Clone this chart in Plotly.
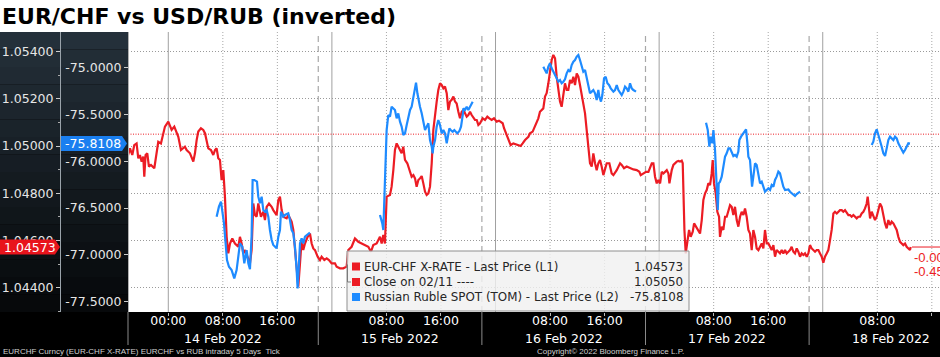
import pandas as pd
import plotly.graph_objects as go

BASE = pd.Timestamp("2022-02-14 00:00")

# ---------------- data (hours since 14 Feb 2022 00:00, prices) ----------------
eurchf_hours = [
    -5.97, -5.62, -5.28, -4.99, -4.65, -4.40, -4.16, -3.91, -3.67, -3.52,
    -3.33, -3.08, -2.84, -2.54, -2.05, -1.71, -1.47, -1.08, -0.73, -0.49,
    0.00, 0.24, 0.49, 0.88, 1.22, 1.47, 1.86, 2.20, 2.44, 2.69,
    3.18, 3.67, 3.91, 4.16, 4.40, 4.79, 5.13, 5.38, 5.62, 5.87,
    6.26, 6.60, 6.85, 7.09, 7.33, 7.58, 7.82, 8.07, 8.31, 8.56,
    8.80, 9.05, 9.39, 9.78, 10.27, 10.51, 10.76, 11.00, 11.25, 11.64,
    11.98, 12.22, 12.47, 12.71, 12.96, 13.20, 13.59, 13.94, 14.18, 14.43,
    14.77, 15.16, 15.40, 15.89, 16.14, 16.38, 16.63, 16.87, 17.36, 17.60,
    18.09, 18.34, 18.58, 18.83, 19.07, 19.32, 19.56, 19.80, 20.05, 20.44,
    20.78, 21.03, 21.27, 21.52, 21.91, 22.25, 22.49, 22.89, 23.23, 23.57,
    23.96, 24.45, 24.69, 25.18, 25.67, 26.16, 26.41, 26.89, 27.38, 27.63,
    27.87, 28.36, 28.85, 29.34, 29.73, 30.07, 30.56, 31.05, 31.30, 31.54,
    31.78, 32.03, 32.52, 32.76, 33.01, 33.25, 33.50, 33.74, 33.99, 34.23,
    34.47, 34.72, 35.06, 35.36, 35.70, 35.95, 36.19, 36.43, 36.68, 36.92,
    37.17, 37.41, 37.66, 37.90, 38.15, 38.39, 38.64, 38.88, 39.13, 39.37,
    39.61, 39.86, 40.10, 40.35, 40.59, 40.84, 41.08, 41.33, 41.57, 41.82,
    42.06, 42.30, 42.55, 42.79, 43.04, 43.28, 43.53, 43.77, 44.01, 44.26,
    44.50, 44.75, 44.99, 45.24, 45.48, 45.73, 46.12, 46.46, 46.80, 47.10,
    47.44, 47.78, 48.17, 48.51, 48.76, 49.05, 49.25, 49.54, 49.88, 50.22,
    50.62, 51.01, 51.35, 51.69, 51.98, 52.33, 52.82, 53.06, 53.45, 53.79,
    54.04, 54.28, 54.52, 55.01, 55.26, 55.50, 55.75, 55.99, 56.24, 56.48,
    56.73, 56.97, 57.22, 57.46, 57.70, 57.95, 58.19, 58.44, 58.68, 58.93,
    59.17, 59.42, 59.66, 59.91, 60.15, 60.39, 60.64, 60.88, 61.13, 61.37,
    61.62, 61.86, 62.11, 62.35, 62.60, 62.84, 63.08, 63.33, 63.57, 63.82,
    64.31, 64.70, 65.04, 65.29, 65.78, 66.27, 66.51, 66.85, 67.24, 67.73,
    68.22, 68.71, 69.10, 69.30, 69.69, 70.08, 70.43, 70.67, 70.92, 71.16,
    71.40, 71.65, 71.89, 72.14, 72.38, 72.63, 72.87, 73.12, 73.36, 73.51,
    73.85, 74.09, 74.58, 74.82, 75.07, 75.31, 75.46, 75.56, 75.71, 75.90,
    76.15, 76.39, 76.63, 76.93, 77.13, 77.42, 77.76, 78.00, 78.25, 78.49,
    78.74, 78.98, 79.22, 79.47, 79.71, 79.86, 80.05, 80.30, 80.54, 80.79,
    80.93, 81.18, 81.42, 81.67, 81.91, 82.16, 82.40, 82.64, 82.89, 83.13,
    83.38, 83.62, 83.87, 84.11, 84.36, 84.60, 84.84, 85.09, 85.33, 85.58,
    85.82, 86.07, 86.31, 86.56, 86.80, 87.05, 87.29, 87.53, 87.78, 88.02,
    88.27, 88.51, 88.76, 89.00, 89.24, 89.49, 89.73, 89.98, 90.22, 90.47,
    90.71, 90.96, 91.20, 91.44, 91.69, 91.93, 92.18, 92.42, 92.67, 92.91,
    93.16, 93.40, 93.65, 93.89, 94.13, 94.38, 94.62, 94.87, 95.11, 95.36,
    95.60, 95.85, 96.09, 96.33, 96.58, 96.82, 97.07, 97.31, 97.56, 97.80,
    98.05, 98.29, 98.53, 98.78, 99.02, 99.27, 99.51, 99.76, 100.00, 100.24,
    100.49, 100.73, 100.98, 101.22, 101.47, 101.71, 101.96, 102.20, 102.45, 102.59,
    102.79, 102.94, 103.18, 103.42, 103.67, 103.91, 104.16, 104.40, 104.65, 104.89,
    105.14, 105.38, 105.62, 105.87, 106.11, 106.36, 106.60, 106.85, 107.09, 107.34,
    107.58, 107.82, 108.07, 108.31, 108.56, 108.80, 108.90,
]
eurchf_price = [
    1.04955, 1.04990, 1.04962, 1.05004, 1.05011, 1.04948, 1.04962, 1.04934, 1.04955, 1.04870,
    1.04962, 1.04969, 1.04913, 1.04920, 1.04906, 1.04983, 1.05018, 1.05011, 1.05054, 1.05082,
    1.05103, 1.05089, 1.05068, 1.05082, 1.05061, 1.05039, 1.04983, 1.04990, 1.04997, 1.04983,
    1.04969, 1.04934, 1.04969, 1.05025, 1.05061, 1.05075, 1.05068, 1.05054, 1.05025, 1.04990,
    1.04983, 1.04962, 1.04983, 1.04990, 1.04948, 1.04941, 1.04856, 1.04898, 1.04786, 1.04616,
    1.04546, 1.04588, 1.04609, 1.04588, 1.04574, 1.04616, 1.04588, 1.04546, 1.04560, 1.04532,
    1.04504, 1.04560, 1.04757, 1.04708, 1.04701, 1.04757, 1.04701, 1.04722, 1.04687, 1.04743,
    1.04757, 1.04743, 1.04729, 1.04708, 1.04772, 1.04786, 1.04729, 1.04701, 1.04694, 1.04708,
    1.04680, 1.04645, 1.04574, 1.04475, 1.04405, 1.04504, 1.04602, 1.04560, 1.04588, 1.04616,
    1.04630, 1.04588, 1.04567, 1.04560, 1.04532, 1.04518, 1.04532, 1.04518, 1.04525, 1.04518,
    1.04504, 1.04504, 1.04490, 1.04483, 1.04483, 1.04490, 1.04560, 1.04574, 1.04609, 1.04602,
    1.04595, 1.04588, 1.04581, 1.04574, 1.04553, 1.04581, 1.04588, 1.04616, 1.04588, 1.04624,
    1.04588, 1.04786, 1.04793, 1.04828, 1.04898, 1.04983, 1.05011, 1.04997, 1.04983, 1.04969,
    1.04997, 1.04941, 1.04927, 1.04898, 1.04870, 1.04877, 1.04863, 1.04828, 1.04856, 1.04863,
    1.04873, 1.04842, 1.04807, 1.04793, 1.04800, 1.04828, 1.04927, 1.05068, 1.05138, 1.05188,
    1.05237, 1.05265, 1.05258, 1.05244, 1.05251, 1.05223, 1.05152, 1.05188, 1.05195, 1.05209,
    1.05188, 1.05180, 1.05145, 1.05117, 1.05145, 1.05152, 1.05138, 1.05124, 1.05131, 1.05145,
    1.05131, 1.05121, 1.05110, 1.05110, 1.05089, 1.05096, 1.05117, 1.05110, 1.05124, 1.05117,
    1.05110, 1.05117, 1.05103, 1.05107, 1.05103, 1.05096, 1.05075, 1.05054, 1.05032, 1.05004,
    1.05011, 1.05008, 1.05004, 1.05000, 1.05011, 1.05025, 1.05039, 1.05054, 1.05061, 1.05082,
    1.05103, 1.05117, 1.05145, 1.05159, 1.05209, 1.05223, 1.05265, 1.05321, 1.05364, 1.05385,
    1.05371, 1.05293, 1.05230, 1.05188, 1.05166, 1.05209, 1.05265, 1.05237, 1.05237, 1.05279,
    1.05265, 1.05293, 1.05258, 1.05307, 1.05293, 1.05258, 1.05216, 1.05180, 1.05138, 1.05068,
    1.04997, 1.04927, 1.04913, 1.04969, 1.04927, 1.04898, 1.04927, 1.04941, 1.04913, 1.04877,
    1.04927, 1.04927, 1.04884, 1.04877, 1.04898, 1.04927, 1.04920, 1.04906, 1.04913, 1.04906,
    1.04901, 1.04898, 1.04891, 1.04877, 1.04884, 1.04891, 1.04891, 1.04913, 1.04927, 1.04927,
    1.04870, 1.04842, 1.04856, 1.04842, 1.04891, 1.04884, 1.04891, 1.04898, 1.04884, 1.04842,
    1.04898, 1.04920, 1.04934, 1.04937, 1.04934, 1.04938, 1.04927, 1.04757, 1.04645, 1.04546,
    1.04588, 1.04645, 1.04616, 1.04638, 1.04673, 1.04659, 1.04645, 1.04630, 1.04687, 1.04772,
    1.04800, 1.04814, 1.04842, 1.04835, 1.04884, 1.04941, 1.04842, 1.04800, 1.04722, 1.04701,
    1.04616, 1.04659, 1.04645, 1.04701, 1.04701, 1.04722, 1.04750, 1.04743, 1.04708, 1.04743,
    1.04687, 1.04659, 1.04701, 1.04722, 1.04708, 1.04736, 1.04701, 1.04645, 1.04630, 1.04560,
    1.04645, 1.04616, 1.04567, 1.04560, 1.04574, 1.04588, 1.04567, 1.04645, 1.04588, 1.04588,
    1.04574, 1.04560, 1.04581, 1.04532, 1.04560, 1.04553, 1.04546, 1.04560, 1.04546, 1.04560,
    1.04546, 1.04553, 1.04560, 1.04574, 1.04553, 1.04546, 1.04567, 1.04553, 1.04532, 1.04546,
    1.04539, 1.04546, 1.04532, 1.04546, 1.04581, 1.04567, 1.04560, 1.04553, 1.04560, 1.04560,
    1.04546, 1.04532, 1.04507, 1.04532, 1.04546, 1.04560, 1.04602, 1.04645, 1.04715, 1.04722,
    1.04715, 1.04722, 1.04729, 1.04729, 1.04722, 1.04729, 1.04718, 1.04708, 1.04708, 1.04701,
    1.04708, 1.04701, 1.04694, 1.04701, 1.04701, 1.04715, 1.04722, 1.04736, 1.04757, 1.04786,
    1.04729, 1.04694, 1.04722, 1.04708, 1.04687, 1.04701, 1.04736, 1.04757, 1.04743, 1.04701,
    1.04673, 1.04652, 1.04687, 1.04666, 1.04680, 1.04673, 1.04659, 1.04645, 1.04616, 1.04595,
    1.04588, 1.04581, 1.04588, 1.04574, 1.04567, 1.04560, 1.04573,
]
eurchf_prev_close = 1.05050

# USD/RUB (inverted), trading sessions
rub_s1_hours = [7.09, 7.43, 7.73, 7.92, 8.17, 8.41, 8.61, 8.90, 9.29, 9.68,
                10.02, 10.27, 10.51, 10.86, 11.15, 11.49, 11.74, 11.98, 12.22, 12.37,
                12.62, 13.01, 13.20, 13.45, 13.69, 13.94, 14.18, 14.43, 14.67, 14.91,
                15.16, 15.40, 15.89, 16.14, 16.38, 16.53, 16.87, 17.11, 17.60, 17.85,
                18.09, 18.34, 18.58, 18.83, 18.97, 19.17, 19.32, 19.56, 19.80, 20.05,
                20.29, 20.54, 20.78]
rub_s1_price = [-76.592, -76.485, -76.432, -76.521, -76.663, -76.877, -77.055, -77.126, -77.162, -77.251,
                -77.162, -77.019, -76.877, -76.912, -77.090, -76.948, -77.090, -77.154, -76.805, -76.200,
                -76.200, -76.218, -76.378, -76.449, -76.378, -76.521, -76.538, -76.521, -76.592, -76.734,
                -76.841, -76.894, -76.930, -76.805, -76.734, -76.538, -76.592, -76.574, -76.556, -76.627,
                -76.734, -76.770, -76.912, -77.162, -77.357, -77.090, -76.877, -76.823, -76.877, -76.805,
                -76.788, -76.770, -76.763]
rub_s2_hours = [31.05, 31.39, 31.54, 31.78, 32.03, 32.27, 32.52, 32.76, 33.25, 33.50,
                33.74, 33.99, 34.23, 34.47, 34.72, 34.97, 35.21, 35.46, 35.70, 35.95,
                36.19, 36.34, 36.54, 36.68, 36.92, 37.17, 37.41, 37.66, 37.90, 38.15,
                38.29, 38.39, 38.64, 38.78, 38.88, 39.13, 39.37, 39.47, 39.61, 39.86,
                40.10, 40.35, 40.59, 40.84, 40.98, 41.23, 41.42, 41.72, 41.96, 42.21,
                42.40, 42.70, 42.94, 43.19, 43.29, 43.53, 43.77, 44.01, 44.26, 44.50, 44.65]
rub_s2_price = [-76.574, -76.663, -76.734, -76.200, -75.666, -75.506, -75.523, -75.417, -75.452, -75.541,
                -75.488, -75.577, -75.630, -75.719, -75.702, -75.612, -75.523, -75.452, -75.417, -75.310,
                -75.203, -75.160, -75.274, -75.345, -75.417, -75.488, -75.559, -75.666, -75.630, -75.595,
                -75.702, -75.773, -75.844, -75.915, -75.844, -75.773, -75.630, -75.577, -75.559, -75.612,
                -75.702, -75.666, -75.702, -75.808, -75.737, -75.648, -75.666, -75.684, -75.666, -75.684,
                -75.702, -75.677, -75.630, -75.506, -75.434, -75.452, -75.417, -75.452, -75.417, -75.374, -75.363]
rub_s3_hours = [55.01, 55.26, 55.50, 55.75, 55.99, 56.24, 56.48, 56.73, 56.97, 57.22,
                57.46, 57.70, 57.95, 58.19, 58.44, 58.68, 58.93, 59.17, 59.42, 59.66,
                59.91, 60.15, 60.39, 60.64, 60.88, 61.13, 61.37, 61.62, 61.86, 62.11,
                62.35, 62.60, 62.84, 63.08, 63.23, 63.47, 63.67, 63.92, 64.16, 64.41,
                64.65, 64.90, 65.29, 65.53, 65.78, 66.02, 66.27, 66.51, 66.76, 67.00,
                67.24, 67.49, 67.73, 67.98, 68.22, 68.47, 68.61]
rub_s3_price = [-74.989, -75.025, -75.061, -74.989, -74.954, -75.007, -75.043, -75.078, -75.114, -75.150,
                -75.132, -75.167, -75.150, -75.125, -75.061, -75.025, -75.043, -74.972, -74.936, -74.918,
                -74.882, -74.865, -74.918, -74.989, -75.043, -75.025, -75.114, -75.203, -75.274, -75.256,
                -75.239, -75.274, -75.345, -75.239, -75.310, -75.363, -75.292, -75.114, -75.096, -75.167,
                -75.185, -75.221, -75.256, -75.239, -75.185, -75.239, -75.274, -75.292, -75.256, -75.203,
                -75.221, -75.256, -75.167, -75.221, -75.239, -75.256, -75.256]
rub_s4_hours = [78.88, 79.13, 79.37, 79.57, 79.81, 79.96, 80.20, 80.45, 80.60, 80.74,
                80.93, 81.18, 81.42, 81.67, 81.91, 82.16, 82.40, 82.64, 82.89, 83.13,
                83.38, 83.62, 83.77, 84.02, 84.36, 84.60, 84.75, 84.95, 85.09, 85.33,
                85.48, 85.63, 85.82, 86.07, 86.31, 86.56, 86.80, 87.05, 87.29, 87.53,
                87.78, 88.02, 88.27, 88.51, 88.76, 89.00, 89.24, 89.49, 89.73, 89.98,
                90.22, 90.47, 90.71, 90.96, 91.20, 91.44, 91.69, 91.93, 92.18, 92.42, 92.67]
rub_s4_price = [-75.588, -75.666, -75.844, -75.737, -75.808, -75.666, -75.880, -76.200, -76.521, -76.236,
                -76.218, -76.164, -76.058, -75.951, -75.915, -75.862, -75.862, -75.897, -75.944, -75.933,
                -75.951, -75.897, -75.773, -75.737, -75.702, -75.666, -75.659, -75.808, -75.951, -75.986,
                -76.111, -76.271, -76.164, -76.022, -76.040, -76.164, -76.236, -76.218, -76.271, -76.325,
                -76.307, -76.289, -76.307, -76.253, -76.271, -76.200, -76.164, -76.111, -76.129, -76.218,
                -76.271, -76.307, -76.307, -76.300, -76.325, -76.342, -76.360, -76.371, -76.350, -76.335, -76.325]
rub_s5_hours = [103.18, 103.42, 103.67, 103.91, 104.16, 104.40, 104.65, 104.89, 105.14, 105.38,
                105.62, 105.87, 106.11, 106.36, 106.60, 106.85, 107.09, 107.34, 107.58, 107.82,
                108.07, 108.31, 108.56, 108.80]
rub_s5_price = [-75.826, -75.791, -75.702, -75.659, -75.719, -75.773, -75.844, -75.915, -75.944, -75.862,
                -75.773, -75.737, -75.755, -75.773, -75.737, -75.755, -75.808, -75.844, -75.880, -75.908,
                -75.880, -75.837, -75.808, -75.8108]

l1_ticks = [1.044, 1.046, 1.048, 1.050, 1.052, 1.054]
l2_ticks = [-75.0, -75.5, -76.0, -76.5, -77.0, -77.5]
time_tick_hours = [0, 8, 16, 32, 40, 56, 64, 80, 88, 104, 112]
time_tick_text = ["00:00", "08:00", "16:00", "08:00", "16:00", "08:00", "16:00",
                  "08:00", "16:00", "08:00", "16:00"]
day_labels = ["14 Feb 2022", "15 Feb 2022", "16 Feb 2022", "17 Feb 2022", "18 Feb 2022"]

legend_names = ["EUR-CHF X-RATE - Last Price (L1)", "Close on 02/11 ----",
                "Russian Ruble SPOT (TOM) - Last Price (L2)"]

title_text = "EUR/CHF vs USD/RUB (inverted)"
footer_left = "EURCHF Curncy (EUR-CHF X-RATE) EURCHF vs RUB intraday 5 Days  Tick"
footer_center = "Copyright\u00a9 2022 Bloomberg Finance L.P."

# ---------------- styling ----------------
RED = "#ec1c24"
BLUE = "#1e8bff"
FONT = "DejaVu Sans"
W, H = 940, 357
M_T, M_B = 32, 45
PLOT_H = H - M_T - M_B
X0 = 128 / W
L1_POS = 60 / W


def ts(hours):
    return [BASE + pd.Timedelta(hours=h) for h in hours]


def py(px_from_bottom):
    return px_from_bottom / PLOT_H


fig = go.Figure()
fig.add_trace(go.Scatter(x=ts(eurchf_hours), y=eurchf_price, mode="lines",
                         line=dict(color=RED, width=2.2), xaxis="x", yaxis="y",
                         showlegend=False, hoverinfo="skip"))
for hh, pp in [(rub_s1_hours, rub_s1_price), (rub_s2_hours, rub_s2_price),
               (rub_s3_hours, rub_s3_price), (rub_s4_hours, rub_s4_price),
               (rub_s5_hours, rub_s5_price)]:
    fig.add_trace(go.Scatter(x=ts(hh), y=pp, mode="lines",
                             line=dict(color=BLUE, width=2.2), xaxis="x", yaxis="y2",
                             showlegend=False, hoverinfo="skip"))

x_start, x_end = -5.91, 113.2
y1_range = [1.042983, 1.054819]
y2_range = [-77.610, -74.619]

shapes = []
# title band
shapes.append(dict(type="rect", xref="paper", yref="paper", x0=0, x1=1,
                   y0=1, y1=1 + M_T / PLOT_H, fillcolor="white", line=dict(width=0), layer="below"))
# dark gradient behind the y axes
nb = 16
c_top, c_bot = (36, 48, 58), (7, 9, 11)
for i in range(nb):
    t = i / (nb - 1)
    col = tuple(int(c_top[k] + (c_bot[k] - c_top[k]) * t) for k in range(3))
    shapes.append(dict(type="rect", xref="paper", yref="paper", x0=0, x1=X0,
                       y0=1 - (i + 1) / nb, y1=1 - i / nb,
                       fillcolor="rgb(%d,%d,%d)" % col, line=dict(width=0), layer="below"))

# vertical grid: day starts (solid), 08/16 (dotted), session separators (dashed)
for d in range(5):
    h0 = 24 * d
    shapes.append(dict(type="line", xref="x", yref="paper", x0=ts([h0])[0], x1=ts([h0])[0],
                       y0=0, y1=1, line=dict(color="#a0a0a0", width=1), layer="below"))
    for hh in (h0 + 8, h0 + 16):
        shapes.append(dict(type="line", xref="x", yref="paper", x0=ts([hh])[0], x1=ts([hh])[0],
                           y0=0, y1=1, line=dict(color="#a8a8a8", width=1, dash="1px,2px"),
                           layer="below"))
    if d < 4:
        hs = h0 + 22
        shapes.append(dict(type="line", xref="x", yref="paper", x0=ts([hs])[0], x1=ts([hs])[0],
                           y0=0, y1=1, line=dict(color="#a8a8a8", width=1.2, dash="6px,4px"),
                           layer="below"))
        shapes.append(dict(type="line", xref="x", yref="paper", x0=ts([hs])[0], x1=ts([hs])[0],
                           y0=-33 / PLOT_H, y1=0, line=dict(color="#8a8a8a", width=1), layer="above"))
shapes.append(dict(type="line", xref="paper", yref="paper", x0=X0, x1=X0,
                   y0=-33 / PLOT_H, y1=0, line=dict(color="#8a8a8a", width=1), layer="above"))

# previous close line
shapes.append(dict(type="line", xref="paper", yref="y", x0=X0, x1=1,
                   y0=eurchf_prev_close, y1=eurchf_prev_close,
                   line=dict(color=RED, width=1, dash="1px,1.5px"), layer="below"))

# legend box
lx0, lx1 = 347 / W, 689 / W
shapes.append(dict(type="rect", xref="paper", yref="paper", x0=lx0, x1=lx1,
                   y0=py(1), y1=py(61), fillcolor="rgba(240,240,240,0.82)",
                   line=dict(color="#8f8f8f", width=1), layer="above"))
row_y = [py(45.5), py(30), py(15)]
row_col = [RED, RED, BLUE]
for ry, rc in zip(row_y, row_col):
    shapes.append(dict(type="rect", xref="paper", yref="paper", x0=352 / W, x1=360 / W,
                       y0=ry - py(4), y1=ry + py(4), fillcolor=rc, line=dict(width=0), layer="above"))
shapes.append(dict(type="path", xref="paper", yref="paper",
                   path="M %f,%f L %f,%f L %f,%f" % (347.5 / W, row_y[0] + py(2), 347.5 / W, row_y[1],
                                                      351 / W, row_y[1]),
                   line=dict(color="#7a7a7a", width=1), layer="above"))

# last-price marker on the right
last_l1 = eurchf_price[-1]
last_l2 = rub_s5_price[-1]
shapes.append(dict(type="line", xref="paper", yref="y", x0=912 / W, x1=1,
                   y0=last_l1, y1=last_l1, line=dict(color=RED, width=1), layer="above"))

# tags on the axes (pointer triangles)
dy1 = 7.5 * (y1_range[1] - y1_range[0]) / PLOT_H
dy2 = 7.5 * (y2_range[1] - y2_range[0]) / PLOT_H
shapes.append(dict(type="path", xref="paper", yref="y",
                   path="M 0,%f L %f,%f L %f,%f L %f,%f L 0,%f Z" % (
                       last_l1 + dy1, 55 / W, last_l1 + dy1, 60 / W, last_l1,
                       55 / W, last_l1 - dy1, last_l1 - dy1),
                   fillcolor="#e8141c", line=dict(width=0), layer="above"))
shapes.append(dict(type="path", xref="paper", yref="y2",
                   path="M %f,%f L %f,%f L %f,%f L %f,%f L %f,%f Z" % (
                       61 / W, last_l2 + dy2, 122 / W, last_l2 + dy2, 127 / W, last_l2,
                       122 / W, last_l2 - dy2, 61 / W, last_l2 - dy2),
                   fillcolor="#1a7ff0", line=dict(width=0), layer="above"))

annotations = []
annotations.append(dict(xref="paper", yref="paper", x=0.0, y=1 + 15.5 / PLOT_H,
                        xanchor="left", yanchor="middle", showarrow=False,
                        text="<b>%s</b>" % title_text,
                        font=dict(family=FONT, size=22, color="black")))
annotations.append(dict(xref="paper", yref="y", x=2 / W, y=last_l1, xanchor="left",
                        yanchor="middle", showarrow=False, text="%.5f" % last_l1,
                        font=dict(family=FONT, size=12.5, color="white")))
annotations.append(dict(xref="paper", yref="y2", x=63 / W, y=last_l2, xanchor="left",
                        yanchor="middle", showarrow=False, text="%.4f" % last_l2,
                        font=dict(family=FONT, size=12.5, color="white")))
legend_vals = ["%.5f" % last_l1, "%.5f" % eurchf_prev_close, "%.4f" % last_l2]
for ry, name, val in zip(row_y, legend_names, legend_vals):
    annotations.append(dict(xref="paper", yref="paper", x=362 / W, y=ry, xanchor="left",
                            yanchor="middle", showarrow=False, text=name,
                            font=dict(family=FONT, size=11.9, color="#262626")))
    annotations.append(dict(xref="paper", yref="paper", x=685 / W, y=ry, xanchor="right",
                            yanchor="middle", showarrow=False, text=val,
                            font=dict(family=FONT, size=11.9, color="#262626")))
chg = last_l1 - eurchf_prev_close
pct = chg / eurchf_prev_close * 100
annotations.append(dict(xref="paper", yref="paper", x=912 / W, y=py(312 - 257), xanchor="left",
                        yanchor="middle", showarrow=False, text="%.5f" % chg,
                        font=dict(family="Liberation Sans", size=13, color=RED)))
annotations.append(dict(xref="paper", yref="paper", x=912 / W, y=py(312 - 271), xanchor="left",
                        yanchor="middle", showarrow=False, text="%.2f%%" % pct,
                        font=dict(family="Liberation Sans", size=13, color=RED)))
# day labels centred in each session
bounds = [x_start, 22, 46, 70, 94, 118]
for i, lab in enumerate(day_labels):
    c = (bounds[i] + bounds[i + 1]) / 2
    annotations.append(dict(xref="x", yref="paper", x=ts([c])[0], y=-26 / PLOT_H,
                            xanchor="center", yanchor="middle", showarrow=False, text=lab,
                            font=dict(family=FONT, size=12.5, color="white")))
annotations.append(dict(xref="paper", yref="paper", x=1 / W, y=-39.5 / PLOT_H, xanchor="left",
                        yanchor="middle", showarrow=False, text=footer_left,
                        font=dict(family="Liberation Sans", size=8, color="#d0d0d0")))
annotations.append(dict(xref="paper", yref="paper", x=610 / W, y=-39.5 / PLOT_H, xanchor="center",
                        yanchor="middle", showarrow=False, text=footer_center,
                        font=dict(family="Liberation Sans", size=8, color="#d0d0d0")))

fig.update_layout(
    width=W, height=H,
    margin=dict(l=0, r=0, t=M_T, b=M_B, pad=0),
    paper_bgcolor="black",
    plot_bgcolor="white",
    showlegend=False,
    shapes=shapes,
    annotations=annotations,
    xaxis=dict(
        domain=[X0, 1], type="date",
        range=[ts([x_start])[0], ts([x_end])[0]],
        tickmode="array", tickvals=ts(time_tick_hours), ticktext=time_tick_text,
        tickfont=dict(family=FONT, size=12.5, color="white"),
        ticks="outside", ticklen=3, tickcolor="#bbbbbb", ticklabelstandoff=-6,
        showgrid=False, zeroline=False, showline=False, anchor="y",
    ),
    yaxis=dict(
        range=y1_range, anchor="free", position=L1_POS, side="left",
        tickmode="array", tickvals=l1_ticks, ticktext=["%.5f" % v for v in l1_ticks],
        tickfont=dict(family=FONT, size=12.5, color="#e6e6e6"),
        ticks="outside", ticklen=4, tickcolor="#cccccc",
        showline=True, linecolor="#9aa3aa", linewidth=1,
        showgrid=True, gridcolor="#9a9a9a", griddash="1px,2px", gridwidth=1,
        zeroline=False,
        minor=dict(tickvals=[1.043, 1.045, 1.047, 1.049, 1.051, 1.053], ticks="outside",
                   ticklen=2, tickcolor="#aaaaaa", showgrid=False),
    ),
    yaxis2=dict(
        range=y2_range, overlaying="y", anchor="free", position=X0, side="left",
        tickmode="array", tickvals=l2_ticks, ticktext=["%.4f" % v for v in l2_ticks],
        tickfont=dict(family=FONT, size=12.5, color="#e6e6e6"),
        ticks="outside", ticklen=4, tickcolor="#cccccc",
        showline=True, linecolor="#b0b0b0", linewidth=1,
        showgrid=False, zeroline=False,
    ),
)

fig.write_html("out.html", config={"displayModeBar": False},
               post_script="document.body.style.margin='0px';"
                           "document.body.style.overflow='hidden';")
